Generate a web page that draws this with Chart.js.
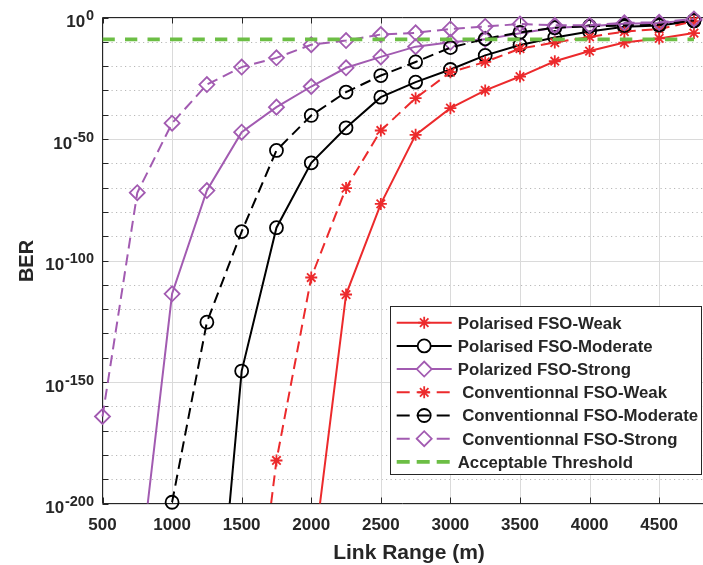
<!DOCTYPE html>
<html>
<head>
<meta charset="utf-8">
<script src="https://cdn.jsdelivr.net/npm/chart.js"></script>
<style>
  html, body { margin: 0; padding: 0; background: #ffffff; }
  #wrap { width: 703px; height: 565px; position: relative; }
  canvas { display: block; }
</style>
</head>
<body>
<div id="wrap"><canvas id="c" width="703" height="565"></canvas></div>
<script>
// ---------------- data ----------------
const linkRange = [500, 750, 1000, 1250, 1500, 1750, 2000, 2250, 2500, 2750, 3000, 3250, 3500, 3750, 4000, 4250, 4500, 4750];

const polarisedWeak        = [null, null, null, null, null, null, 1e-229, 1e-114, 2.0e-77, 5.0e-49, 5.0e-38, 1e-30, 5.0e-25, 1e-18, 1.6e-14, 5.0e-11, 2.5e-9, 4.0e-7];
const polarisedModerate    = [null, null, null, 1e-304, 3.2e-146, 3.2e-87, 1.6e-60, 4.0e-46, 1.6e-33, 2.5e-27, 4.0e-22, 2.5e-16, 5.0e-12, 6.3e-9, 1.6e-6, 1.6e-4, 5.0e-4, 4.0e-2];
const polarizedStrong      = [null, 1e-237, 2.0e-114, 6.3e-72, 6.3e-48, 1.3e-37, 4.0e-29, 2.0e-21, 6.3e-17, 1e-12, 6.3e-11, 1e-9, 3.2e-7, 6.3e-5, 2.5e-4, 2.5e-3, 5.0e-3, 1e-1];
const conventionalWeak     = [null, null, null, null, 1e-297, 5.0e-183, 1e-107, 6.3e-71, 3.2e-47, 6.3e-34, 3.2e-23, 5.0e-19, 1.6e-13, 5.0e-11, 1e-8, 1.6e-6, 1.6e-5, 3.2e-2];
const conventionalModerate = [null, null, 3.2e-200, 4.0e-126, 7.9e-89, 2.0e-55, 5.0e-41, 2.0e-31, 1.3e-24, 5.0e-19, 4.0e-13, 1.6e-9, 7.9e-7, 6.3e-5, 2.5e-4, 5.0e-4, 1e-3, 6.3e-2];
const conventionalStrong   = [6.3e-165, 7.9e-73, 3.2e-44, 2.5e-28, 4.0e-21, 2.5e-17, 6.3e-12, 3.2e-10, 1e-7, 5.0e-7, 2.0e-5, 2.0e-4, 2.0e-3, 6.3e-4, 6.3e-4, 6.3e-3, 1e-2, 2.5e-1];

const thresholdRange = [500, 4750];
const thresholdBER   = [1e-9, 1e-9];

const seriesLabels = [
  'Polarised FSO-Weak',
  'Polarised FSO-Moderate',
  'Polarized FSO-Strong',
  'Conventionnal FSO-Weak',
  'Conventionnal FSO-Moderate',
  'Conventionnal FSO-Strong',
  'Acceptable Threshold'
];

const xTickValues = [500, 1000, 1500, 2000, 2500, 3000, 3500, 4000, 4500];
const yMajorExponents = [0, -50, -100, -150, -200];
const yMinorExponents = [-10, -20, -30, -40, -60, -70, -80, -90, -110, -120, -130, -140, -160, -170, -180, -190];
const yTickBase = '10';
const xTitle = 'Link Range (m)';
const yTitle = 'BER';

// ---------------- styling ----------------
const FONT = '"Liberation Sans", Arial, Helvetica, sans-serif';
const TEXT = '#262626';
const RED = '#EC2A2C', BLACK = '#000000', PURPLE = '#A25BB1', GREEN = '#6CBE45';

function pts(xs, ys) {
  const out = [];
  xs.forEach((x, i) => { if (ys[i] !== null) out.push({ x: x, y: ys[i] }); });
  return out;
}

function series(label, values, color, dash, style, radius, order, clipBottom) {
  return {
    label: label,
    data: pts(linkRange, values),
    borderColor: color,
    backgroundColor: 'rgba(0,0,0,0)',
    borderWidth: 2,
    borderDash: dash,
    pointStyle: style,
    pointRadius: radius,
    pointHoverRadius: radius,
    pointBorderColor: color,
    pointBackgroundColor: 'rgba(0,0,0,0)',
    pointBorderWidth: 1.8,
    tension: 0,
    fill: false,
    order: order,
    clip: { left: 12, top: 12, right: 12, bottom: clipBottom }
  };
}

const datasets = [
  series(seriesLabels[0], polarisedWeak,        RED,    [],      'star',    6,   7, 0),
  series(seriesLabels[1], polarisedModerate,    BLACK,  [],      'circle',  6.5, 6, 0),
  series(seriesLabels[2], polarizedStrong,      PURPLE, [],      'rectRot', 7.5, 5, 0),
  series(seriesLabels[3], conventionalWeak,     RED,    [11, 6], 'star',    6,   4, 0),
  series(seriesLabels[4], conventionalModerate, BLACK,  [11, 6], 'circle',  6.5, 3, 9),
  series(seriesLabels[5], conventionalStrong,   PURPLE, [11, 6], 'rectRot', 7.5, 2, 0),
  {
    label: seriesLabels[6],
    data: pts(thresholdRange, thresholdBER),
    borderColor: GREEN,
    backgroundColor: 'rgba(0,0,0,0)',
    borderWidth: 3.6,
    borderDash: [12.3, 10.2],
    pointRadius: 0,
    pointHoverRadius: 0,
    fill: false,
    order: 1,
    clip: { left: 0, top: 12, right: 0, bottom: 0 }
  }
];

// ---------------- MATLAB-like axes, labels and legend ----------------
function hline(ctx, x1, x2, y) { ctx.beginPath(); ctx.moveTo(x1, y); ctx.lineTo(x2, y); ctx.stroke(); }
function vline(ctx, x, y1, y2) { ctx.beginPath(); ctx.moveTo(x, y1); ctx.lineTo(x, y2); ctx.stroke(); }

const matlabAxes = {
  id: 'matlabAxes',
  beforeDatasetsDraw(chart) {
    const ctx = chart.ctx, a = chart.chartArea, xs = chart.scales.x, ys = chart.scales.y;
    ctx.save();
    ctx.lineWidth = 1;
    // minor dotted y-grid
    ctx.strokeStyle = '#b8b8b8';
    ctx.setLineDash([1.2, 3.3]);
    yMinorExponents.forEach(e => {
      const py = Math.round(ys.getPixelForValue(Math.pow(10, e))) + 0.5;
      hline(ctx, a.left, a.right, py);
    });
    ctx.setLineDash([]);
    // major grid
    ctx.strokeStyle = '#dadada';
    xTickValues.forEach(v => {
      const px = Math.round(xs.getPixelForValue(v)) + 0.5;
      vline(ctx, px, a.top, a.bottom);
    });
    yMajorExponents.forEach(e => {
      const py = Math.round(ys.getPixelForValue(Math.pow(10, e))) + 0.5;
      hline(ctx, a.left, a.right, py);
    });
    // axes box
    ctx.strokeStyle = TEXT;
    vline(ctx, a.left, a.top, a.bottom);
    hline(ctx, a.left, a.right, a.top);
    hline(ctx, a.left, a.right, a.bottom);
    // tick marks (inward)
    xTickValues.forEach(v => {
      const px = Math.round(xs.getPixelForValue(v)) + 0.5;
      vline(ctx, px, a.bottom, a.bottom - 6);
      vline(ctx, px, a.top, a.top + 6);
    });
    yMajorExponents.concat(yMinorExponents).forEach(e => {
      const py = Math.round(ys.getPixelForValue(Math.pow(10, e))) + 0.5;
      hline(ctx, a.left, a.left + 6, py);
    });
    ctx.restore();
  },
  afterDatasetsDraw(chart) {
    const ctx = chart.ctx, a = chart.chartArea, xs = chart.scales.x, ys = chart.scales.y;
    ctx.save();
    ctx.fillStyle = TEXT;
    ctx.textBaseline = 'alphabetic';
    // y tick labels 10^e
    yMajorExponents.forEach(e => {
      const py = ys.getPixelForValue(Math.pow(10, e));
      const expText = String(e);
      ctx.font = 'bold 14.5px ' + FONT;
      ctx.textAlign = 'right';
      const ew = ctx.measureText(expText).width;
      ctx.fillText(expText, 94, py + 2.5);
      ctx.font = 'bold 17px ' + FONT;
      ctx.fillText(yTickBase, 94 - ew - 0.8, py + 9.5);
    });
    // x tick labels
    ctx.font = 'bold 17px ' + FONT;
    ctx.textAlign = 'center';
    xTickValues.forEach(v => {
      ctx.fillText(String(v), xs.getPixelForValue(v), 530);
    });
    // axis titles
    ctx.font = 'bold 21px ' + FONT;
    ctx.fillText(xTitle, 409, 559);
    ctx.save();
    ctx.translate(33.3, 261);
    ctx.rotate(-Math.PI / 2);
    ctx.font = 'bold 20px ' + FONT;
    ctx.textAlign = 'center';
    ctx.fillText(yTitle, 0, 0);
    ctx.restore();

    // legend box
    const bx = 390.5, by = 306.5, bw = 311, bh = 168;
    ctx.fillStyle = '#ffffff';
    ctx.fillRect(bx, by, bw, bh);
    ctx.strokeStyle = TEXT;
    ctx.lineWidth = 1;
    ctx.setLineDash([]);
    ctx.strokeRect(bx, by, bw, bh);
    chart.data.datasets.forEach((ds, i) => {
      const ry = 322.7 + i * 23.2;
      const dashed = ds.borderDash && ds.borderDash.length > 0;
      ctx.save();
      ctx.strokeStyle = ds.borderColor;
      ctx.lineWidth = ds.borderWidth;
      ctx.setLineDash(dashed ? [13, 7] : []);
      hline(ctx, 396.7, 451.7, ry);
      ctx.restore();
      if (ds.pointRadius > 0 && Chart.helpers && Chart.helpers.drawPoint) {
        ctx.save();
        ctx.setLineDash([]);
        ctx.strokeStyle = ds.pointBorderColor;
        ctx.fillStyle = '#ffffff';
        ctx.lineWidth = ds.pointBorderWidth;
        if (ds.pointStyle === 'circle' && dashed) {
          ctx.fillStyle = 'rgba(0,0,0,0)';
        }
        Chart.helpers.drawPoint(ctx, { pointStyle: ds.pointStyle, radius: ds.pointRadius, rotation: 0, borderWidth: ds.pointBorderWidth }, 424.2, ry);
        ctx.restore();
      }
      ctx.fillStyle = TEXT;
      ctx.font = 'bold 16.8px ' + FONT;
      ctx.textAlign = 'left';
      const indent = (i >= 3 && i <= 5) ? 4.5 : 0;
      ctx.fillText(ds.label, 457.7 + indent, ry + 5.8);
    });
    ctx.restore();
  }
};

new Chart(document.getElementById('c'), {
  type: 'line',
  data: { datasets: datasets },
  options: {
    responsive: false,
    animation: false,
    devicePixelRatio: 1,
    layout: { autoPadding: false, padding: { left: 102.5, top: 17.5, right: 0, bottom: 61.5 } },
    plugins: { legend: { display: false }, tooltip: { enabled: false } },
    events: [],
    scales: {
      x: { type: 'linear', min: 500, max: 4815, display: false },
      y: {
        type: 'logarithmic', min: 1e-200, max: 1, display: false,
        afterBuildTicks: (scale) => {
          scale.ticks = yMajorExponents.map(e => ({ value: Math.pow(10, e) }));
        }
      }
    }
  },
  plugins: [matlabAxes]
});
</script>
</body>
</html>
